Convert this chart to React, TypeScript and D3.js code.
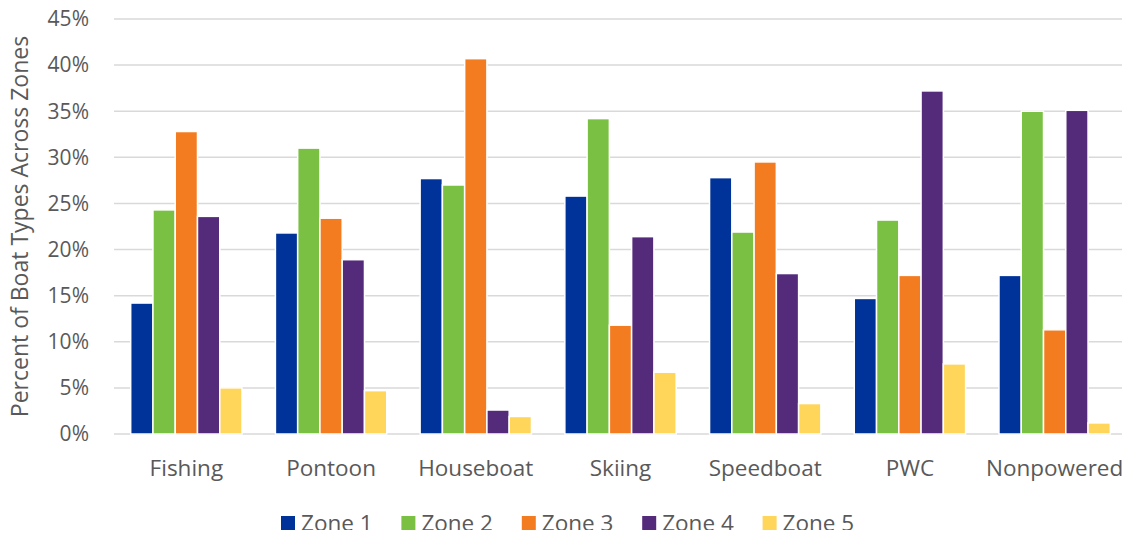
import React from "react";
import * as d3 from "d3";

const categories = ["Fishing", "Pontoon", "Houseboat", "Skiing", "Speedboat", "PWC", "Nonpowered"];
const zones = ["Zone 1", "Zone 2", "Zone 3", "Zone 4", "Zone 5"];
const colors = ["#003399", "#7AC143", "#F47C20", "#542A7B", "#FFD55A"];

// percent values per zone, in category order
const zone1 = [14.2, 21.8, 27.7, 25.8, 27.8, 14.7, 17.2];
const zone2 = [24.3, 31.0, 27.0, 34.2, 21.9, 23.2, 35.0];
const zone3 = [32.8, 23.4, 40.7, 11.8, 29.5, 17.2, 11.3];
const zone4 = [23.6, 18.9, 2.6, 21.4, 17.4, 37.2, 35.1];
const zone5 = [5.0, 4.7, 1.9, 6.7, 3.3, 7.6, 1.2];
const series = [zone1, zone2, zone3, zone4, zone5];

const yTicks = [0, 5, 10, 15, 20, 25, 30, 35, 40, 45];

const W = 1130;
const H = 538;
const left = 114;
const right = 1127;
const top = 19;
const bottom = 434;
const textColor = "#595959";
const font = "'Open Sans', sans-serif";

export default function App() {
  const x = d3.scaleBand<string>().domain(categories).range([left, right]);
  const bw = x.bandwidth();
  // gap width 150% -> outer padding of 0.75 bar on each side
  const x1 = d3
    .scaleBand<number>()
    .domain(d3.range(zones.length))
    .range([0, bw])
    .paddingInner(0)
    .paddingOuter(0.75);
  const y = d3.scaleLinear().domain([0, 45]).range([bottom, top]);

  return (
    <div style={{ margin: -8 }}>
      <svg width={W} height={H} style={{ display: "block", background: "#fff" }} fontFamily={font}>
        <g>
          {yTicks.map((t) => (
            <g key={t}>
              <line x1={left} x2={right} y1={y(t)} y2={y(t)} stroke="#D9D9D9" strokeWidth={1.5} />
              <text x={89} y={y(t)} dy="0.35em" textAnchor="end" fontSize={21} fill={textColor}>
                {t}%
              </text>
            </g>
          ))}
        </g>
        <g>
          {categories.map((c, ci) => (
            <g key={c} transform={`translate(${x(c)},0)`}>
              {series.map((s, si) => (
                <rect
                  key={si}
                  x={x1(si)}
                  width={x1.bandwidth()}
                  y={y(s[ci])}
                  height={y(0) - y(s[ci])}
                  fill={colors[si]}
                  stroke="#fff"
                  strokeWidth={1.5}
                />
              ))}
              <text x={bw / 2} y={468} dy="0.35em" textAnchor="middle" fontSize={22.5} fill={textColor}>
                {c}
              </text>
            </g>
          ))}
        </g>
        <text
          transform={`translate(20,${(top + bottom) / 2}) rotate(-90)`}
          textAnchor="middle"
          dy="0.35em"
          fontSize={23}
          fill={textColor}
        >
          Percent of Boat Types Across Zones
        </text>
        <g>
          {zones.map((z, i) => (
            <g key={z} transform={`translate(${281 + i * 120.4},523)`}>
              <rect x={0} y={-7} width={14} height={14} fill={colors[i]} />
              <text x={20} y={0} dy="0.35em" fontSize={22.5} fill={textColor}>
                {z}
              </text>
            </g>
          ))}
        </g>
      </svg>
    </div>
  );
}
